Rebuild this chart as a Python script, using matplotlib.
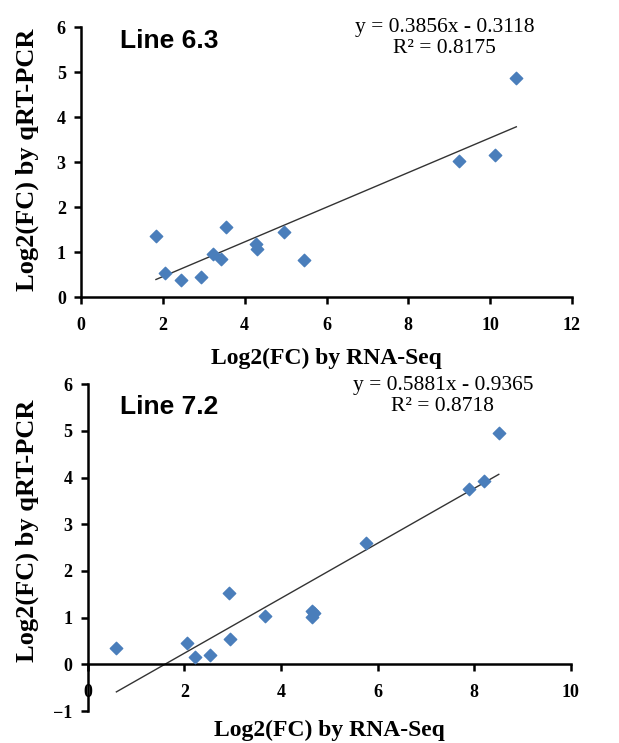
import matplotlib
matplotlib.use('Agg')
import matplotlib.pyplot as plt
import numpy as np

# Line 6.3 data
x63 = [1.83, 2.04, 2.45, 2.94, 3.23, 3.41, 3.54, 4.28, 4.30, 4.95, 5.46, 9.24, 10.13, 10.64]
y63 = [1.37, 0.53, 0.38, 0.45, 0.95, 0.84, 1.56, 1.19, 1.08, 1.45, 0.82, 3.04, 3.17, 4.87]
slope63, icpt63, r2_63 = 0.3856, -0.3118, 0.8175

# Line 7.2 data
x72 = [0.59, 2.05, 2.22, 2.52, 2.92, 2.94, 3.66, 4.64, 4.64, 4.68, 5.77, 7.89, 8.20, 8.51]
y72 = [0.34, 0.46, 0.16, 0.20, 1.52, 0.54, 1.03, 1.14, 1.02, 1.10, 2.59, 3.76, 3.93, 4.96]
slope72, icpt72, r2_72 = 0.5881, -0.9365, 0.8718

xticks63 = [0, 2, 4, 6, 8, 10, 12]
yticks63 = [0, 1, 2, 3, 4, 5, 6]
xticks72 = [0, 2, 4, 6, 8, 10]
yticks72 = [-1, 0, 1, 2, 3, 4, 5, 6]

blue = '#4a7ebb'
serif = 'Liberation Serif'

# tick labels are bold Times-like, set globally so they survive spine moves
plt.rcParams['font.family'] = serif
plt.rcParams['font.weight'] = 'bold'

fig = plt.figure(figsize=(6.19, 7.43), dpi=100)
ax1 = fig.add_axes([0.131, 0.600, 0.793, 0.363])
ax2 = fig.add_axes([0.142, 0.043, 0.780, 0.440])


def style(ax, xt, yt, xlim, ylim):
    ax.set_xlim(xlim)
    ax.set_ylim(ylim)
    ax.set_xticks(xt)
    ax.set_yticks(yt)
    for s in ['top', 'right']:
        ax.spines[s].set_visible(False)
    for s in ['left', 'bottom']:
        ax.spines[s].set_linewidth(1.8)
    ax.tick_params(direction='out', length=5, width=1.8, labelsize=13, pad=6)
    ax.tick_params(axis='x', pad=9)


# top panel
ax1.scatter(x63, y63, marker='D', s=40, color=blue, zorder=3)
xx = np.array([min(x63), max(x63)])
ax1.plot(xx, slope63 * xx + icpt63, color='#333333', lw=1.0)
style(ax1, xticks63, yticks63, (0, 12), (0, 6))
ax1.set_xlabel('Log2(FC) by RNA-Seq', fontweight='bold', fontsize=17, labelpad=10)
ax1.set_ylabel('Log2(FC) by qRT-PCR', fontweight='bold', fontsize=19)
ax1.yaxis.set_label_coords(-0.086, 0.51)
ax1.text(0.08, 0.95, 'Line 6.3', transform=ax1.transAxes, fontfamily='Liberation Sans',
         fontweight='bold', fontsize=19, va='center')
ax1.text(0.741, 0.961, 'y = %.4fx - %.4f\nR² = %.4f' % (slope63, -icpt63, r2_63),
         transform=ax1.transAxes, fontweight='normal', fontsize=15.5, ha='center', va='center',
         linespacing=1.15)

# bottom panel
ax2.scatter(x72, y72, marker='D', s=40, color=blue, zorder=3)
xx = np.array([min(x72), max(x72)])
ax2.plot(xx, slope72 * xx + icpt72, color='#333333', lw=1.0)
style(ax2, xticks72, yticks72, (0, 10), (-1, 6))
ax2.spines['bottom'].set_position(('data', 0))
ax2.set_xlabel('Log2(FC) by RNA-Seq', fontweight='bold', fontsize=17)
ax2.xaxis.set_label_coords(0.5, -0.027)
ax2.set_ylabel('Log2(FC) by qRT-PCR', fontweight='bold', fontsize=19)
ax2.yaxis.set_label_coords(-0.101, 0.55)
ax2.text(0.067, 0.93, 'Line 7.2', transform=ax2.transAxes, fontfamily='Liberation Sans',
         fontweight='bold', fontsize=19, va='center')
ax2.text(0.735, 0.963, 'y = %.4fx - %.4f\nR² = %.4f' % (slope72, -icpt72, r2_72),
         transform=ax2.transAxes, fontweight='normal', fontsize=15.5, ha='center', va='center',
         linespacing=1.15)

fig.savefig('out.png', dpi=100)
